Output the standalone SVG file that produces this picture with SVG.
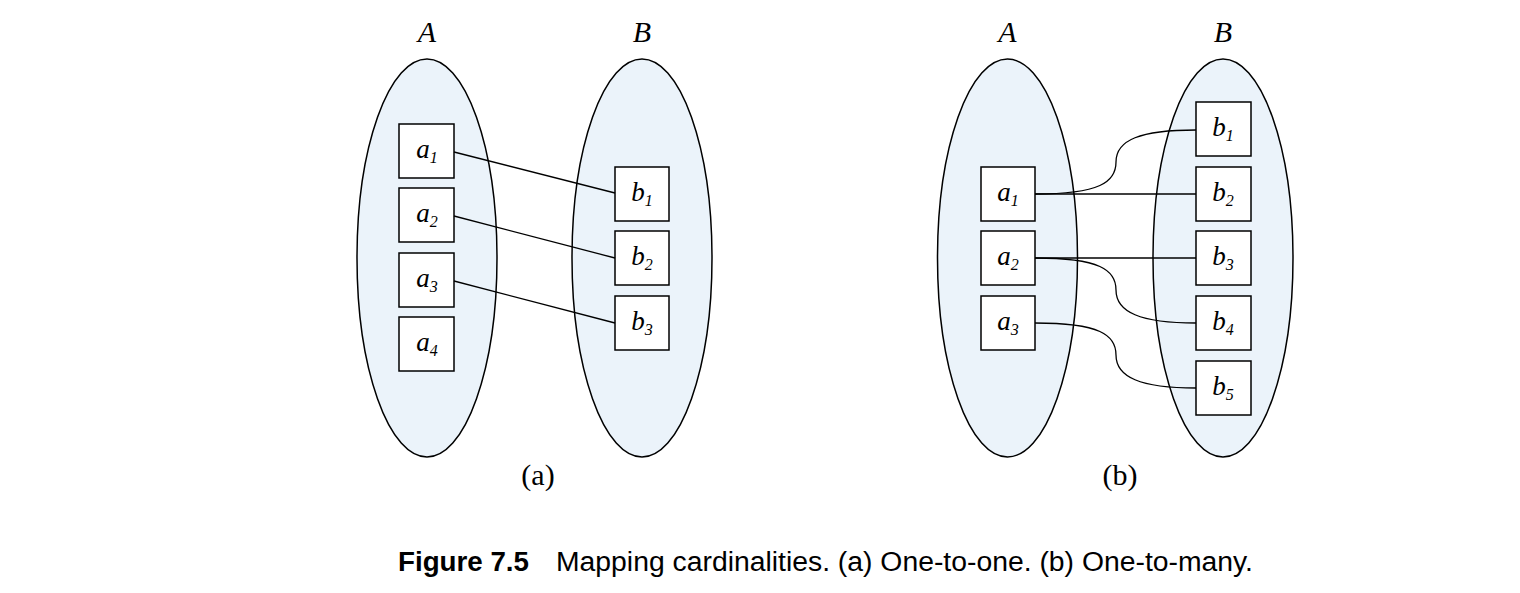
<svg xmlns="http://www.w3.org/2000/svg" width="1520" height="593" viewBox="0 0 1520 593">
<style>
.set{fill:#ebf3fa;stroke:#000;stroke-width:1.5}
.box{fill:#fff;stroke:#000;stroke-width:1.5}
.lbl{font-family:"Liberation Serif",serif;font-style:italic;font-size:27px;text-anchor:middle}
.sub{font-size:16px}
.big{font-family:"Liberation Serif",serif;font-style:italic;font-size:30px;text-anchor:middle}
.pl{font-family:"Liberation Serif",serif;font-size:30px;text-anchor:middle}
.con{fill:none;stroke:#000;stroke-width:1.3}
.cap{font-family:"Liberation Sans",sans-serif;font-size:27px}
</style>
<rect width="1520" height="593" fill="#fff"/>
<!-- panel a -->
<g id="setA_a"><ellipse class="set" cx="427" cy="258" rx="70" ry="199"/><text class="big" x="427" y="42">A</text></g>
<g id="setB_a"><ellipse class="set" cx="642" cy="258" rx="70" ry="199"/><text class="big" x="642" y="42">B</text></g>
<g id="a_a1"><rect class="box" x="399" y="124" width="55" height="54"/><text class="lbl" x="427" y="158">a<tspan class="sub" dy="5">1</tspan></text></g>
<g id="a_a2"><rect class="box" x="399" y="188" width="55" height="54"/><text class="lbl" x="427" y="222">a<tspan class="sub" dy="5">2</tspan></text></g>
<g id="a_a3"><rect class="box" x="399" y="253" width="55" height="54"/><text class="lbl" x="427" y="287">a<tspan class="sub" dy="5">3</tspan></text></g>
<g id="a_a4"><rect class="box" x="399" y="317" width="55" height="54"/><text class="lbl" x="427" y="351">a<tspan class="sub" dy="5">4</tspan></text></g>
<g id="a_b1"><rect class="box" x="615" y="167" width="54" height="54"/><text class="lbl" x="642" y="201">b<tspan class="sub" dy="5">1</tspan></text></g>
<g id="a_b2"><rect class="box" x="615" y="231" width="54" height="54"/><text class="lbl" x="642" y="265">b<tspan class="sub" dy="5">2</tspan></text></g>
<g id="a_b3"><rect class="box" x="615" y="296" width="54" height="54"/><text class="lbl" x="642" y="330">b<tspan class="sub" dy="5">3</tspan></text></g>
<text class="pl" x="538" y="485">(a)</text>
<!-- panel b -->
<g id="setA_b"><ellipse class="set" cx="1007.5" cy="258" rx="70" ry="199"/><text class="big" x="1007.5" y="42">A</text></g>
<g id="setB_b"><ellipse class="set" cx="1223" cy="258" rx="70" ry="199"/><text class="big" x="1223" y="42">B</text></g>
<g id="b_a1"><rect class="box" x="981" y="167" width="54" height="54"/><text class="lbl" x="1008" y="201">a<tspan class="sub" dy="5">1</tspan></text></g>
<g id="b_a2"><rect class="box" x="981" y="231" width="54" height="54"/><text class="lbl" x="1008" y="265">a<tspan class="sub" dy="5">2</tspan></text></g>
<g id="b_a3"><rect class="box" x="981" y="296" width="54" height="54"/><text class="lbl" x="1008" y="330">a<tspan class="sub" dy="5">3</tspan></text></g>
<g id="b_b1"><rect class="box" x="1196" y="102" width="55" height="54"/><text class="lbl" x="1223" y="136">b<tspan class="sub" dy="5">1</tspan></text></g>
<g id="b_b2"><rect class="box" x="1196" y="167" width="55" height="54"/><text class="lbl" x="1223" y="201">b<tspan class="sub" dy="5">2</tspan></text></g>
<g id="b_b3"><rect class="box" x="1196" y="231" width="55" height="54"/><text class="lbl" x="1223" y="265">b<tspan class="sub" dy="5">3</tspan></text></g>
<g id="b_b4"><rect class="box" x="1196" y="296" width="55" height="54"/><text class="lbl" x="1223" y="330">b<tspan class="sub" dy="5">4</tspan></text></g>
<g id="b_b5"><rect class="box" x="1196" y="361" width="55" height="54"/><text class="lbl" x="1223" y="395">b<tspan class="sub" dy="5">5</tspan></text></g>
<text class="pl" x="1120" y="485">(b)</text>
<g id="connectors">
<line class="con" x1="454" y1="152" x2="615" y2="193"/>
<line class="con" x1="454" y1="216" x2="615" y2="258"/>
<line class="con" x1="454" y1="281" x2="615" y2="323"/>
<line class="con" x1="1035" y1="194" x2="1196" y2="194"/>
<line class="con" x1="1035" y1="258" x2="1196" y2="258"/>
<path class="con" d="M1035,194 C1100,194 1116,182 1116,162 C1116,140 1140,130 1196,130"/>
<path class="con" d="M1035,258 C1100,258 1116,270 1116,290 C1116,312 1140,323 1196,323"/>
<path class="con" d="M1035,323 C1100,323 1116,335 1116,355 C1116,377 1140,388 1196,388"/>
</g>
<text class="cap" x="398" y="571" font-weight="bold" textLength="131" lengthAdjust="spacingAndGlyphs">Figure 7.5</text>
<text class="cap" x="556" y="571" textLength="697" lengthAdjust="spacingAndGlyphs">Mapping cardinalities. (a) One-to-one. (b) One-to-many.</text>
</svg>
